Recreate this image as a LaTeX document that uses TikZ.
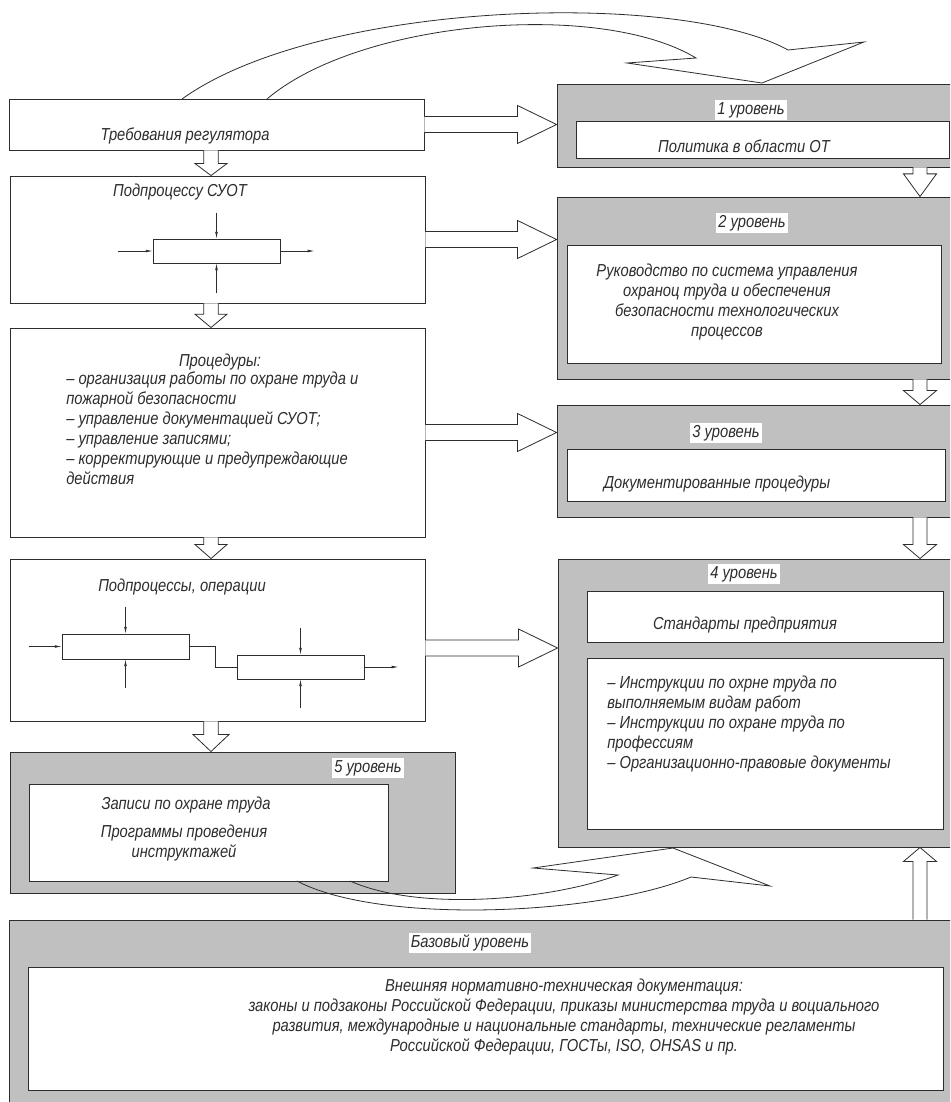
\documentclass[tikz,border=0pt]{standalone}
\usepackage{fontspec}
\setmainfont{Liberation Sans}[FakeStretch=0.85]
\usetikzlibrary{calc,fit,arrows.meta}

\definecolor{panel}{RGB}{192,192,192}
\definecolor{ink}{RGB}{45,45,45}

\tikzset{
  every node/.style={font=\itshape\fontsize{13}{15}\selectfont, text=ink},
  panel/.style={draw=ink, fill=panel, inner sep=0pt, line width=0.7pt},
  sheet/.style={draw=ink, fill=white, inner sep=0pt, line width=0.7pt},
  tag/.style={fill=white, inner sep=1.5pt},
  blk/.style={draw=ink, fill=white, line width=0.6pt, inner sep=0pt},
  feed/.style={-{Latex[length=5pt,width=2pt]}, draw=ink, line width=0.5pt},
  fat/.style n args={3}{draw=ink, fill=white, line width=0.6pt, to path={
      ($(\tikztostart)!#1!90:(\tikztotarget)$)
      -- ($(\tikztotarget)!#3!(\tikztostart)!#1!90:(\tikztotarget)$)
      -- ($(\tikztotarget)!#3!(\tikztostart)!#2!90:(\tikztotarget)$)
      -- (\tikztotarget)
      -- ($(\tikztotarget)!#3!(\tikztostart)!#2!-90:(\tikztotarget)$)
      -- ($(\tikztotarget)!#3!(\tikztostart)!#1!-90:(\tikztotarget)$)
      -- ($(\tikztostart)!#1!-90:(\tikztotarget)$)}},
  ribbon/.style={draw=ink, line width=0.6pt},
}

\begin{document}
\begin{tikzpicture}[x=0.75pt,y=-0.75pt]
  \useasboundingbox (0,0) rectangle (950,1102);
  \clip (0,0) rectangle (950,1102);
  \fill[white] (0,0) rectangle (950,1102);

  % left column
  \node [sheet, fit={(9,99) (424,150)}] (req) {};
  \node (reqtxt) at (185,136) {Требования регулятора};
  \node [sheet, fit={(10,176) (425,303)}] (sub) {};
  \node (subtxt) at (180,192) {Подпроцессу СУОТ};
  \node [blk, minimum width=95.25pt, minimum height=18pt] (sp) at (216.5,251) {};
  \node [sheet, fit={(10,328) (425,537)}] (proc) {};
  \node (proctitle) at (220,362) {Процедуры:};
  \node [anchor=north west, align=left, inner sep=0pt] (proclist) at (66,372)
    {– организация работы по охране труда и\\пожарной безопасности\\– управление документацией СУОТ;\\– управление записями;\\– корректирующие и предупреждающие\\действия};
  \node [sheet, fit={(10,559) (425,721)}] (ops) {};
  \node (opstxt) at (182,587) {Подпроцессы, операции};
  \node [blk, minimum width=95.25pt, minimum height=18.75pt] (op1) at (125.5,646.5) {};
  \node [blk, minimum width=95.25pt, minimum height=18pt] (op2) at (300.5,667) {};
  \node [panel, fit={(10,752) (455,893)}] (lvl5) {};
  \node [tag] (l5tag) at (368,768) {5 уровень};
  \node [sheet, fit={(29,784) (388,881)}] (rec) {};
  \node (rectxt) at (186,805) {Записи по охране труда};
  \node [align=center] (progtxt) at (184,843) {Программы проведения\\инструктажей};

  % right column
  \node [panel, fit={(557,84) (960,167)}] (lvl1) {};
  \node [tag] (l1tag) at (751,110) {1 уровень};
  \node [sheet, fit={(576,121) (949,158)}] (pol) {};
  \node (poltxt) at (744,146) {Политика в области ОТ};
  \node [panel, fit={(557,197) (960,379)}] (lvl2) {};
  \node [tag] (l2tag) at (752,223) {2 уровень};
  \node [sheet, fit={(567,245) (941,363)}] (man) {};
  \node [align=center] (mantxt) at (727,302)
    {Руководство по система управления\\охраноц труда и обеспечения\\безопасности технологических\\процессов};
  \node [panel, fit={(557,405) (960,517)}] (lvl3) {};
  \node [tag] (l3tag) at (726,433) {3 уровень};
  \node [sheet, fit={(567,449) (945,501)}] (doc) {};
  \node (doctxt) at (717,484) {Документированные процедуры};
  \node [panel, fit={(558,559) (960,847)}] (lvl4) {};
  \node [tag] (l4tag) at (744,574) {4 уровень};
  \node [sheet, fit={(587,591) (943,642)}] (std) {};
  \node (stdtxt) at (745,625) {Стандарты предприятия};
  \node [sheet, fit={(587,658) (943,829)}] (ins) {};
  \node [anchor=north west, align=left, inner sep=0pt] (instxt) at (607,676)
    {– Инструкции по охрне труда по\\выполняемым видам работ\\– Инструкции по охране труда по\\профессиям\\– Организационно-правовые документы};

  % base level
  \node [panel, fit={(9,920) (960,1110)}] (base) {};
  \node [tag] (lbtag) at (470,943) {Базовый уровень};
  \node [sheet, fit={(28,967) (943,1090)}] (ext) {};
  \node [align=center] (exttxt) at (564,1017)
    {Внешняя нормативно-техническая документация:\\законы и подзаконы Российской Федерации, приказы министерства труда и воциального\\развития, международные и национальные стандарты, технические регламенты\\Российской Федерации, ГОСТы, ISO, OHSAS и пр.};

  % small process arrows
  \draw [feed] ($(sp.west)+(-35,0)$) -- (sp.west);
  \draw [feed] (sp.east) -- ++(34,0);
  \draw [feed] ($(sp.north)+(0,-26)$) -- (sp.north);
  \draw [feed] ($(sp.south)+(0,30)$) -- (sp.south);
  \draw [feed] ($(op1.west)+(-33,0)$) -- (op1.west);
  \draw [feed] ($(op1.north)+(0,-27)$) -- (op1.north);
  \draw [feed] ($(op1.south)+(0,29)$) -- (op1.south);
  \draw [ink, line width=0.5pt] (op1.east) -- ++(26,0) |- (op2.west);
  \draw [feed] ($(op2.north)+(0,-27)$) -- (op2.north);
  \draw [feed] ($(op2.south)+(0,29)$) -- (op2.south);
  \draw [feed] (op2.east) -- ++(34,0);

  % hollow arrows
  \coordinate (lx) at (211,0);
  \coordinate (rx) at (920,0);
  \coordinate (o4) at ($(ops.east)+(0,8)$);
  \draw [fat={6pt}{14.25pt}{29.25pt}] (req.east) to (req.east -| lvl1.west);
  \draw [fat={6pt}{14.25pt}{29.25pt}] (sub.east) to (sub.east -| lvl2.west);
  \draw [fat={6pt}{14.25pt}{29.25pt}] (proc.east) to (proc.east -| lvl3.west);
  \draw [fat={6pt}{14.25pt}{29.25pt}] (o4) to (o4 -| lvl4.west);
  \draw [fat={5.5pt}{12pt}{9pt}] (req.south -| lx) to (sub.north -| lx);
  \draw [fat={5.5pt}{12pt}{10pt}] (sub.south -| lx) to (proc.north -| lx);
  \draw [fat={5.5pt}{12pt}{10.5pt}] (proc.south -| lx) to (ops.north -| lx);
  \draw [fat={5.5pt}{13.5pt}{12.75pt}] (ops.south -| lx) to (lvl5.north -| lx);
  \draw [fat={5.25pt}{12.4pt}{17pt}] (lvl1.south -| rx) to (lvl2.north -| rx);
  \draw [fat={5.25pt}{12.4pt}{10.5pt}] (lvl2.south -| rx) to (lvl3.north -| rx);
  \draw [fat={5.25pt}{12.4pt}{10.5pt}] (lvl3.south -| rx) to (lvl4.north -| rx);
  \draw [fat={5.25pt}{12.4pt}{10.5pt}] (base.north -| rx) to (lvl4.south -| rx);

  % curved ribbon arrows
  \draw [ribbon] (182,99) .. controls (320,0) and (680,-10) .. (788,50)
    -- (864,42) -- (762,83) -- (627,63) -- (696,58)
    .. controls (600,0) and (360,20) .. (267,99);
  \draw [ribbon] (297,881) .. controls (380,925) and (600,915) .. (691,877)
    -- (770,886) -- (673,848) -- (533,868) -- (618,875)
    .. controls (550,900) and (420,912) .. (350,881);
\end{tikzpicture}
\end{document}
